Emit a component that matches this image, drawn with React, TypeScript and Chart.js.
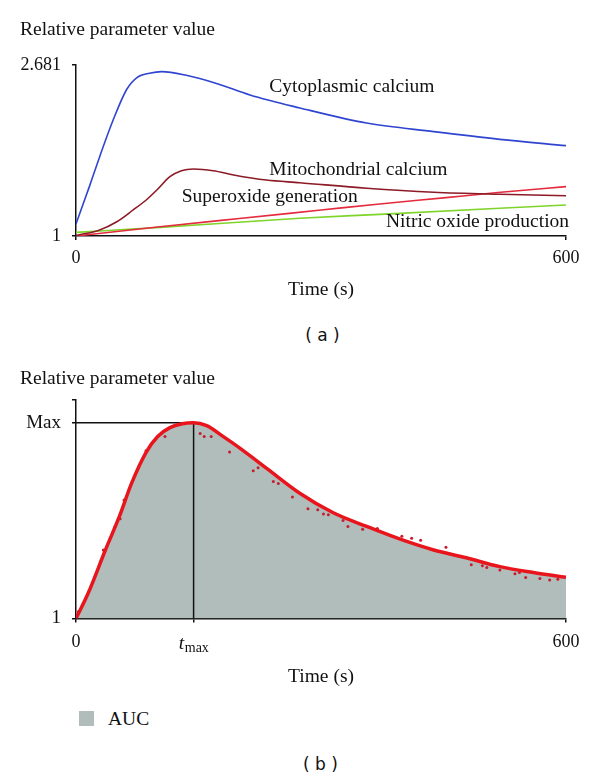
import React, { useEffect, useRef } from "react";
import { Chart, registerables } from "chart.js";

Chart.register(...registerables);

const SERIF = '"Liberation Serif", "Times New Roman", Times, serif';
const SANS = '"DejaVu Sans", "Liberation Sans", Arial, sans-serif';
const INK = "#111111";

// ---------------- Panel (a) data ----------------
const T_CYTO = [0, 17, 29, 45, 62, 75, 90, 105, 135, 172, 213, 274, 356, 438, 519, 600];
const V_CYTO = [1.118, 1.5, 1.78, 2.13, 2.44, 2.56, 2.6, 2.616, 2.58, 2.5, 2.386, 2.259, 2.11, 2.026, 1.95, 1.888];

const T_MITO = [0, 29, 50, 70, 86, 99, 115, 129, 144, 168, 193, 233, 274, 356, 438, 519, 600];
const V_MITO = [1.005, 1.06, 1.14, 1.256, 1.354, 1.452, 1.583, 1.642, 1.659, 1.642, 1.6, 1.55, 1.524, 1.469, 1.43, 1.41, 1.396];

const T_SUPER = [0, 100, 200, 300, 372, 450, 520, 600];
const V_SUPER = [1.0, 1.088, 1.172, 1.255, 1.315, 1.375, 1.43, 1.485];

const T_NO = [0, 103, 274, 372, 600];
const V_NO = [1.036, 1.085, 1.174, 1.213, 1.305];

const SERIES_NAMES_A = [
  "Cytoplasmic calcium",
  "Mitochondrial calcium",
  "Superoxide generation",
  "Nitric oxide production",
];
const X_TICKS_A = [0, 600];
const X_TICK_LABELS_A = ["0", "600"];
const Y_TICKS_A = [1, 2.681];
const Y_TICK_LABELS_A = ["1", "2.681"];

// ---------------- Panel (b) data ----------------
const T_CURVE_B = [0, 15, 36, 53, 68, 86, 100, 115, 130, 144, 160, 180, 201, 233.5, 274, 315, 356, 397, 438, 478, 519, 560, 600];
const V_CURVE_B = [1.0, 1.13, 1.35, 1.52, 1.69, 1.85, 1.93, 1.975, 1.995, 2.0, 1.985, 1.93, 1.869, 1.767, 1.64, 1.54, 1.47, 1.405, 1.35, 1.31, 1.265, 1.235, 1.21];

const T_DOTS_B = [3, 33.5, 47.8, 54, 58.8, 85.7, 109, 152, 157, 165.5, 188, 217, 223, 241.6, 247.7, 265, 284, 296, 303, 309, 327, 333, 351, 369, 399, 411, 422, 453, 484, 497.6, 503, 519, 537.5, 543, 550.6, 568, 580, 590];
const V_DOTS_B = [1.036, 1.35, 1.47, 1.51, 1.605, 1.857, 1.93, 1.945, 1.93, 1.93, 1.85, 1.755, 1.77, 1.7, 1.69, 1.62, 1.56, 1.555, 1.534, 1.53, 1.5, 1.47, 1.456, 1.46, 1.42, 1.41, 1.4, 1.364, 1.274, 1.27, 1.26, 1.248, 1.228, 1.235, 1.21, 1.204, 1.197, 1.2];

const TMAX = 144;
const PEAK = 2.0;
const Y_TOP_B = 2.116;
const X_TICKS_B = [0, TMAX, 600];
const X_TICK_LABELS_B = ["0", "", "600"];
const TMAX_MAIN = "t";
const TMAX_SUB = "max";
const Y_TICKS_B = [1, PEAK, Y_TOP_B];
const Y_TICK_LABELS_B = ["1", "Max", ""];
const AUC_LABEL = "AUC";

// ---------------- Styles ----------------
const C_BLUE = "#2f45d0";
const C_MITO = "#8c1b26";
const C_SUPER = "#e42a3c";
const C_NO = "#7ed42a";
const C_CURVE = "#e8151d";
const C_DOTS = "#c41e2e";
const C_FILL = "#b0bdbb";

const pts = (t: number[], v: number[]) => t.map((x, i) => ({ x, y: v[i] }));

// label anchors (in data units) for series names in panel (a)
const LABEL_ANCHORS_A = [
  { t: 236.7, v: 2.465 },
  { t: 236.7, v: 1.649 },
  { t: 129.4, v: 1.385 },
  { t: 379.6, v: 1.14 },
];

const seriesLabelPlugin = {
  id: "seriesLabels",
  afterDatasetsDraw(chart: any, _args: any, opts: any) {
    if (!opts || !opts.items) return;
    const { ctx } = chart;
    const xs = chart.scales.x;
    const ys = chart.scales.y;
    ctx.save();
    ctx.font = `19.5px ${SERIF}`;
    ctx.fillStyle = INK;
    ctx.textAlign = "left";
    ctx.textBaseline = "middle";
    opts.items.forEach((it: any) => {
      ctx.fillText(it.text, xs.getPixelForValue(it.t), ys.getPixelForValue(it.v));
    });
    ctx.restore();
  },
};

const tmaxLabelPlugin = {
  id: "tmaxLabel",
  afterDraw(chart: any, _args: any, opts: any) {
    if (!opts || opts.value == null) return;
    const { ctx } = chart;
    const px = chart.scales.x.getPixelForValue(opts.value);
    const baseY = chart.chartArea.bottom + opts.offset;
    const f1 = `italic 19.5px ${SERIF}`;
    const f2 = `14px ${SERIF}`;
    ctx.save();
    ctx.fillStyle = INK;
    ctx.textAlign = "left";
    ctx.textBaseline = "alphabetic";
    ctx.font = f1;
    const w1 = ctx.measureText(opts.main).width;
    ctx.font = f2;
    const w2 = ctx.measureText(opts.sub).width;
    const x0 = px - (w1 + w2) / 2;
    ctx.font = f1;
    ctx.fillText(opts.main, x0, baseY);
    ctx.font = f2;
    ctx.fillText(opts.sub, x0 + w1 + 0.5, baseY + 3.5);
    ctx.restore();
  },
};

const axisCommon = {
  grid: { drawOnChartArea: false, drawTicks: true, tickLength: 4, color: INK, lineWidth: 1.5 },
  border: { display: true, color: INK, width: 1.5 },
};

function configA(): any {
  return {
    type: "line",
    data: {
      datasets: [
        { label: SERIES_NAMES_A[0], data: pts(T_CYTO, V_CYTO), borderColor: C_BLUE },
        { label: SERIES_NAMES_A[1], data: pts(T_MITO, V_MITO), borderColor: C_MITO },
        { label: SERIES_NAMES_A[2], data: pts(T_SUPER, V_SUPER), borderColor: C_SUPER },
        { label: SERIES_NAMES_A[3], data: pts(T_NO, V_NO), borderColor: C_NO },
      ].map((d) => ({
        ...d,
        borderWidth: 1.6,
        pointRadius: 0,
        fill: false,
        cubicInterpolationMode: "monotone",
      })),
    },
    options: {
      responsive: false,
      animation: false,
      devicePixelRatio: 1,
      layout: { padding: { left: 20, right: 34, top: 0, bottom: 10.3 } },
      scales: {
        x: {
          type: "linear",
          min: 0,
          max: 600,
          afterBuildTicks: (s: any) => {
            s.ticks = X_TICKS_A.map((value) => ({ value }));
          },
          ticks: {
            callback: (_v: any, i: number) => X_TICK_LABELS_A[i],
            font: { family: SERIF, size: 18 },
            color: INK,
            padding: 7.2,
            maxRotation: 0,
            autoSkip: false,
          },
          title: {
            display: true,
            text: "Time (s)",
            font: { family: SERIF, size: 19.5 },
            color: INK,
            padding: { top: 2.3, bottom: 0 },
          },
          ...axisCommon,
        },
        y: {
          type: "linear",
          min: 1,
          max: 2.681,
          afterBuildTicks: (s: any) => {
            s.ticks = Y_TICKS_A.map((value) => ({ value }));
          },
          afterFit: (s: any) => {
            s.width = 56;
          },
          ticks: {
            callback: (_v: any, i: number) => Y_TICK_LABELS_A[i],
            font: { family: SERIF, size: 18 },
            color: INK,
            padding: 11,
            autoSkip: false,
          },
          ...axisCommon,
        },
      },
      plugins: {
        legend: { display: false },
        tooltip: { enabled: false },
        title: {
          display: true,
          text: "Relative parameter value",
          align: "start",
          color: INK,
          font: { family: SERIF, size: 19.5, weight: "normal" },
          padding: { top: 18.3, bottom: 23.3 },
        },
        seriesLabels: {
          items: SERIES_NAMES_A.map((text, i) => ({ text, ...LABEL_ANCHORS_A[i] })),
        },
      },
    },
    plugins: [seriesLabelPlugin],
  };
}

function configB(): any {
  return {
    type: "line",
    data: {
      datasets: [
        {
          label: AUC_LABEL,
          data: pts(T_CURVE_B, V_CURVE_B),
          borderColor: C_CURVE,
          borderWidth: 3.5,
          backgroundColor: C_FILL,
          fill: "start",
          pointRadius: 0,
          cubicInterpolationMode: "monotone",
        },
        {
          label: "samples",
          data: pts(T_DOTS_B, V_DOTS_B),
          showLine: false,
          pointRadius: 1.5,
          pointBackgroundColor: C_DOTS,
          pointBorderWidth: 0,
          fill: false,
        },
        {
          label: "guides",
          data: [
            { x: 0, y: PEAK },
            { x: TMAX, y: PEAK },
            { x: TMAX, y: 1 },
          ],
          borderColor: INK,
          borderWidth: 1.5,
          pointRadius: 0,
          tension: 0,
          fill: false,
        },
      ],
    },
    options: {
      responsive: false,
      animation: false,
      devicePixelRatio: 1,
      layout: { padding: { left: 20, right: 34, top: 0, bottom: 10.3 } },
      scales: {
        x: {
          type: "linear",
          min: 0,
          max: 600,
          afterBuildTicks: (s: any) => {
            s.ticks = X_TICKS_B.map((value) => ({ value }));
          },
          ticks: {
            callback: (_v: any, i: number) => X_TICK_LABELS_B[i],
            font: { family: SERIF, size: 18 },
            color: INK,
            padding: 9.2,
            maxRotation: 0,
            autoSkip: false,
          },
          title: {
            display: true,
            text: "Time (s)",
            font: { family: SERIF, size: 19.5 },
            color: INK,
            padding: { top: 2.8, bottom: 0 },
          },
          ...axisCommon,
        },
        y: {
          type: "linear",
          min: 1,
          max: Y_TOP_B,
          afterBuildTicks: (s: any) => {
            s.ticks = Y_TICKS_B.map((value) => ({ value }));
          },
          afterFit: (s: any) => {
            s.width = 56;
          },
          ticks: {
            callback: (_v: any, i: number) => Y_TICK_LABELS_B[i],
            font: { family: SERIF, size: 19 },
            color: INK,
            padding: 11,
            autoSkip: false,
          },
          ...axisCommon,
        },
      },
      plugins: {
        legend: { display: false },
        tooltip: { enabled: false },
        filler: { propagate: false, drawTime: "beforeDatasetsDraw" },
        title: {
          display: true,
          text: "Relative parameter value",
          align: "start",
          color: INK,
          font: { family: SERIF, size: 19.5, weight: "normal" },
          padding: { top: 18.3, bottom: 9.3 },
        },
        tmaxLabel: { value: TMAX, main: TMAX_MAIN, sub: TMAX_SUB, offset: 30 },
      },
    },
    plugins: [tmaxLabelPlugin],
  };
}

export default function App() {
  const refA = useRef<HTMLCanvasElement>(null);
  const refB = useRef<HTMLCanvasElement>(null);

  useEffect(() => {
    const a = new Chart(refA.current as HTMLCanvasElement, configA());
    const b = new Chart(refB.current as HTMLCanvasElement, configB());
    return () => {
      a.destroy();
      b.destroy();
    };
  }, []);

  return (
    <div style={{ position: "absolute", left: 0, top: 0, width: 600, height: 779, background: "#fff", overflow: "hidden" }}>
      <canvas ref={refA} width={600} height={312} style={{ position: "absolute", left: 0, top: 0, width: 600, height: 312 }} />
      <div
        style={{
          position: "absolute",
          left: 222.5,
          top: 325,
          width: 200,
          textAlign: "center",
          fontFamily: SANS,
          fontSize: 17,
          lineHeight: "20px",
          color: INK,
          whiteSpace: "pre",
        }}
      >
        {"( a )"}
      </div>
      <canvas ref={refB} width={600} height={350} style={{ position: "absolute", left: 0, top: 349, width: 600, height: 350 }} />
      <div style={{ position: "absolute", left: 79, top: 711, width: 15, height: 15, background: C_FILL }} />
      <div
        style={{
          position: "absolute",
          left: 108,
          top: 707,
          fontFamily: SERIF,
          fontSize: 19.5,
          lineHeight: "23px",
          color: INK,
          whiteSpace: "pre",
        }}
      >
        {AUC_LABEL}
      </div>
      <div
        style={{
          position: "absolute",
          left: 220.5,
          top: 754,
          width: 200,
          textAlign: "center",
          fontFamily: SANS,
          fontSize: 17,
          lineHeight: "20px",
          color: INK,
          whiteSpace: "pre",
        }}
      >
        {"( b )"}
      </div>
    </div>
  );
}
